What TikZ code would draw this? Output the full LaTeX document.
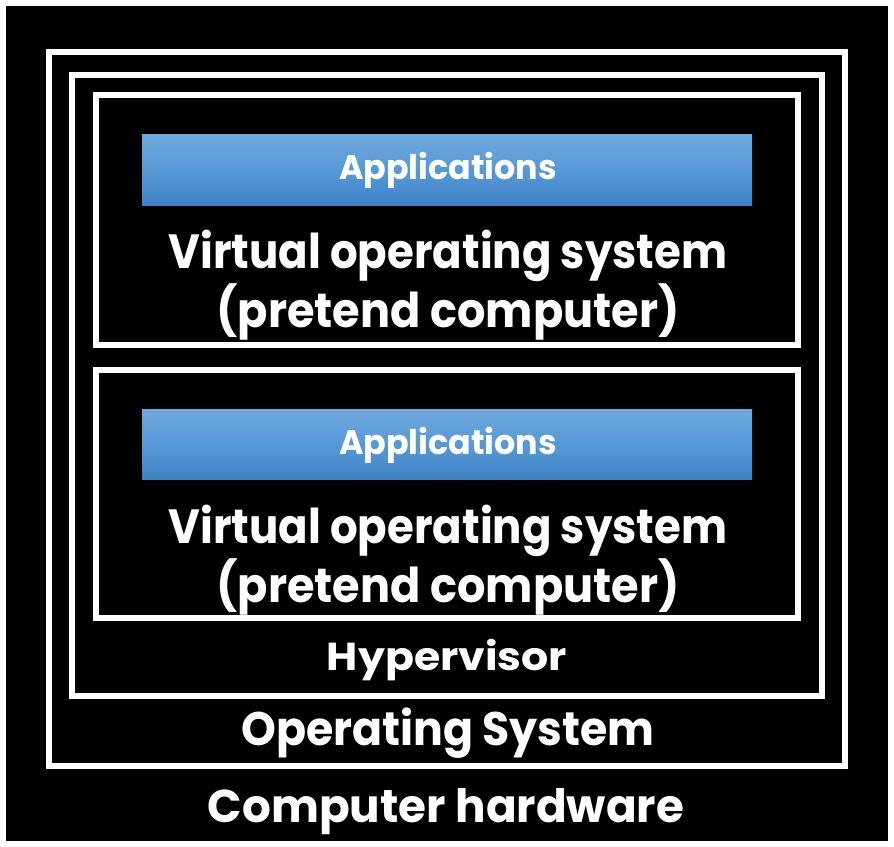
\documentclass[tikz,border=0pt]{standalone}
\usepackage{fontspec}
\setmainfont{Poppins}
\definecolor{bluetop}{HTML}{70A8DC}
\definecolor{bluemid}{HTML}{5799D8}
\definecolor{bluebot}{HTML}{3F83C5}
\tikzset{
  frame/.style={draw=white, line width=6bp},
  appbar/.style={top color=bluetop, bottom color=bluebot, middle color=bluemid, draw=none},
  lbl/.style={text=white, font=\bfseries, anchor=base, inner sep=0pt},
}
\newcommand{\fs}[1]{\fontsize{#1bp}{#1bp}\selectfont}
\begin{document}
\begin{tikzpicture}[x=1bp,y=-1bp]
\useasboundingbox (0,0) rectangle (894,847);
\fill[white] (0,0) rectangle (894,847);
\fill[black] (6,6) rectangle (888,841);
% frames
\draw[frame] (49,52) rectangle (845,766);
\draw[frame] (72,75) rectangle (822,696);
\draw[frame] (96,95) rectangle (798,345);
\draw[frame] (96,370) rectangle (798,618);
% application bars
\shade[appbar] (142,134) rectangle (752,205);
\shade[appbar] (142,409) rectangle (752,479);
% texts
\node[lbl, font=\bfseries\fs{34}] (app1) at (448,179) {\scalebox{0.98}[1]{Applications}};
\node[lbl, font=\bfseries\fs{48}] (vos1a) at (448,268) {\scalebox{0.906}[1]{Virtual operating system}};
\node[lbl, font=\bfseries\fs{48}] (vos1b) at (448,327) {\scalebox{0.93}[1]{(pretend computer)}};
\node[lbl, font=\bfseries\fs{34}] (app2) at (448,454) {\scalebox{0.98}[1]{Applications}};
\node[lbl, font=\bfseries\fs{48}] (vos2a) at (448,543) {\scalebox{0.906}[1]{Virtual operating system}};
\node[lbl, font=\bfseries\fs{48}] (vos2b) at (448,602) {\scalebox{0.93}[1]{(pretend computer)}};
\node[lbl, font=\bfseries\fs{39}] (hyp) at (447,670) {\scalebox{1.094}[1]{Hypervisor}};
\node[lbl, font=\bfseries\fs{47}] (os) at (448,745) {\scalebox{0.942}[1]{Operating System}};
\node[lbl, font=\bfseries\fs{46}] (hw) at (446,822) {\scalebox{0.984}[1]{Computer hardware}};
\end{tikzpicture}
\end{document}
